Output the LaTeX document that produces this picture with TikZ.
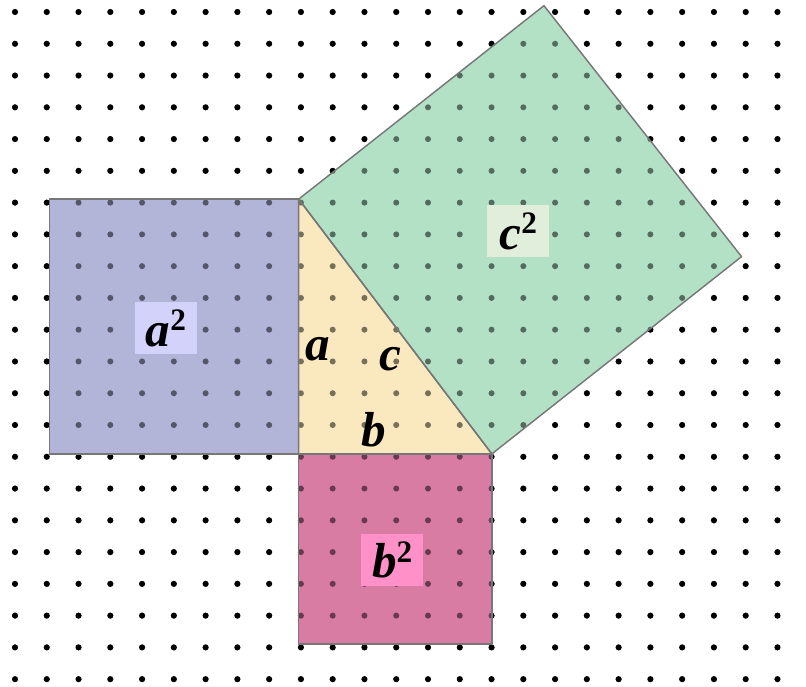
\documentclass[tikz,border=0pt]{standalone}
\usepackage{fontspec}
\setmainfont{Liberation Serif}
\usetikzlibrary{calc}
\definecolor{Edge}{HTML}{777777}
\definecolor{SqA}{HTML}{B2B4D8}
\definecolor{SqB}{HTML}{D87CA4}
\definecolor{SqC}{HTML}{B3E1C6}
\definecolor{Tri}{HTML}{FAE9BE}
\definecolor{TagA}{HTML}{D2D2FA}
\definecolor{TagB}{HTML}{FF91C8}
\definecolor{TagC}{HTML}{E2EEDC}
\newcommand{\sqlabel}[1]{\textbf{\textit{#1}}\raisebox{14pt}{\fontsize{28}{30}\selectfont\bfseries 2}}
\tikzset{
  edge/.style={draw=Edge,line width=1.3pt,line join=round},
  tag/.style={inner sep=0pt,minimum width=1.95cm,minimum height=1.64cm,font=\fontsize{44}{50}\selectfont},
  side/.style={inner sep=0pt,anchor=base west,font=\fontsize{44}{50}\selectfont\bfseries\itshape}
}

\begin{document}
\begin{tikzpicture}[x=1cm,y=1cm]
\useasboundingbox (0,0) rectangle (25.37,21.624);
\begin{scope}[shift={(0.472,0.246)}]
\foreach \i in {0,...,24}{\foreach \j in {0,...,21}{\fill (\i,\j) circle (0.095);}}
\coordinate (A) at (8.93,15.11);
\coordinate (C) at (8.93,7.09);
\coordinate (B) at (15.01,7.09);
\coordinate (P) at (22.87,13.30);
\coordinate (Q) at (16.65,21.20);
\coordinate (L) at (1.08,7.09);
\coordinate (D) at (15.01,1.11);
\fill[SqA] (L) rectangle (A);
\fill[SqB] (C) rectangle (D);
\fill[SqC] (A) -- (B) -- (P) -- (Q) -- cycle;
\fill[Tri] (A) -- (C) -- (B) -- cycle;
\foreach \i in {0,...,24}{\foreach \j in {0,...,21}{\fill[opacity=.52] (\i,\j) circle (0.095);}}
\draw[edge] (L) rectangle (A);
\draw[edge] (C) rectangle (D);
\draw[edge] (A) -- (B) -- (P) -- (Q) -- cycle;
\draw[edge] (A) -- (C) -- (B) -- cycle;
\node[tag,fill=TagA] (tagA) at (4.75,11.05) {\sqlabel{a}};
\node[tag,fill=TagB] (tagB) at (11.87,3.75) {\sqlabel{b}};
\node[tag,fill=TagC] (tagC) at (15.84,14.10) {\sqlabel{c}};
\node[side] (sideA) at (9.13,10.03) {a};
\node[side] (sideC) at (11.46,9.71) {c};
\node[side] (sideB) at (10.89,7.32) {b};
\end{scope}
\end{tikzpicture}
\end{document}
